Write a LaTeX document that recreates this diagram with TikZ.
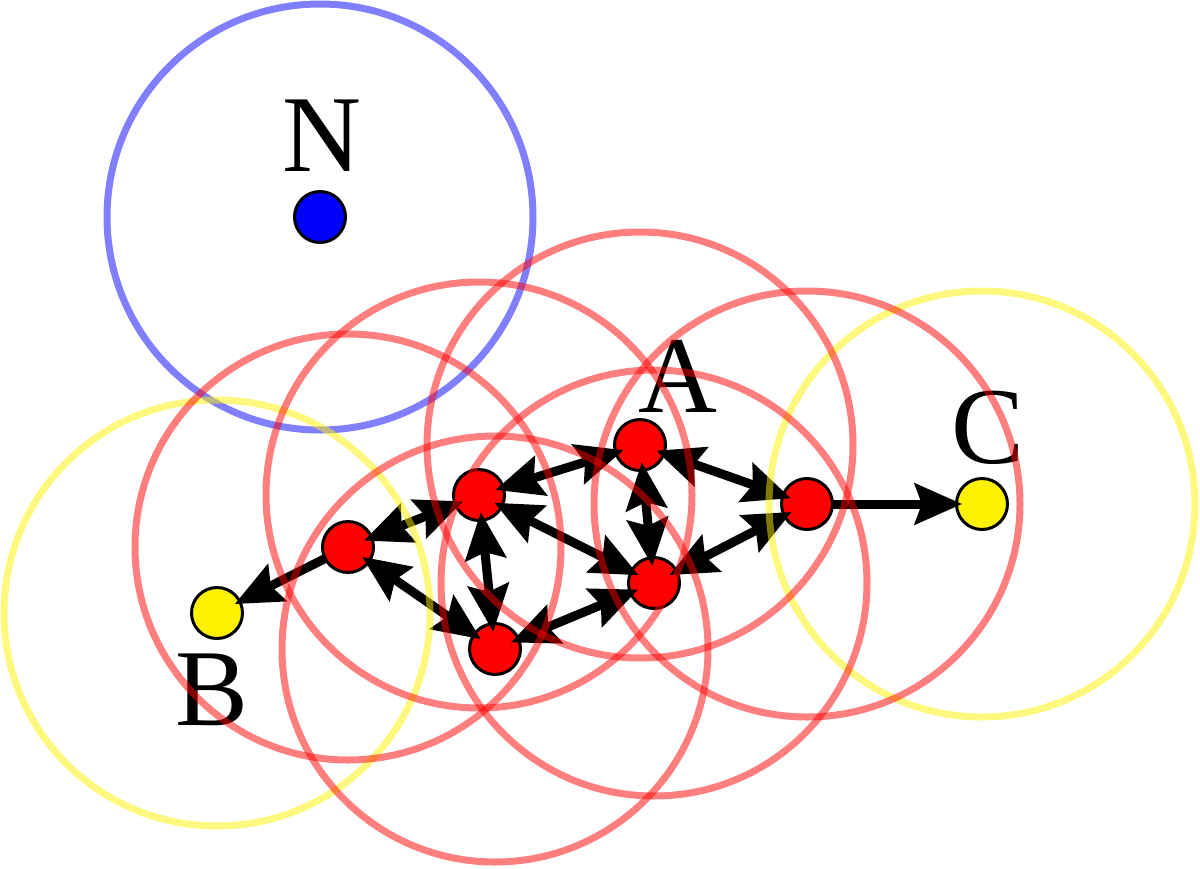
\documentclass[tikz,border=0pt]{standalone}
\usepackage{fontspec}
\setmainfont{Liberation Serif}
\usetikzlibrary{arrows.meta}

\tikzset{
  every picture/.style={line width=0.75pt},
  station/.style={circle,draw=black,line width=2.25pt,minimum size=38.25pt,inner sep=0pt,outer sep=0pt},
  link/.style={line width=6.75pt,{Stealth[length=36pt,width=32pt,inset=6pt,line width=0pt]}-{Stealth[length=36pt,width=32pt,inset=6pt,line width=0pt]},shorten <=-6pt,shorten >=-6pt},
  oneway/.style={line width=6.75pt,-{Stealth[length=36pt,width=32pt,inset=6pt,line width=0pt]},shorten >=-4pt},
  coverage/.style={line width=5.25pt,draw opacity=0.5},
  tag/.style={inner sep=0pt,font=\fontsize{82}{82}\selectfont}
}

\begin{document}
\begin{tikzpicture}[x=0.75pt,y=0.75pt,yscale=-1,xscale=1]
\useasboundingbox (0,0) rectangle (1200,868);
% Stations
\node [station,fill=blue] (n) at (320,217) {};
\node [station,fill=red] (a) at (640,445) {};
\node [station,fill=red] (p1) at (348,547) {};
\node [station,fill=red] (p2) at (479,495) {};
\node [station,fill=red] (p3) at (654,583) {};
\node [station,fill=red] (p4) at (495,649) {};
\node [station,fill=red] (p5) at (807,504) {};
\node [station,fill=yellow] (b) at (217,613) {};
\node [station,fill=yellow] (c) at (982,504) {};
% Text Node
\node [tag] (ln) at (322,136) {N};
\node [tag] (la) at (678,376) {A};
\node [tag] (lb) at (212,690) {B};
\node [tag] (lc) at (988,428) {C};
% Links
\draw [link] (p1) -- (p2);
\draw [link] (p2) -- (a);
\draw [link] (a) -- (p5);
\draw [link] (a) -- (p3);
\draw [link] (p2) -- (p3);
\draw [link] (p2) -- (p4);
\draw [link] (p1) -- (p4);
\draw [link] (p4) -- (p3);
\draw [link] (p3) -- (p5);
\draw [oneway] (p1) -- (b);
\draw [oneway] (p5) -- (c);
% Ranges
\draw [coverage,draw=blue] (n) circle [radius=213];
\draw [coverage,draw=yellow] (b) circle [radius=213];
\draw [coverage,draw=yellow] (c) circle [radius=213];
\foreach \s in {a,p1,p2,p3,p4,p5}
  \draw [coverage,draw=red] (\s) circle [radius=213];
\end{tikzpicture}
\end{document}
